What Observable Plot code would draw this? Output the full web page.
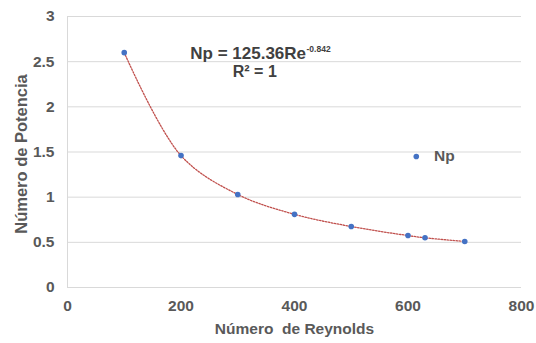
<!DOCTYPE html>
<html>
<head>
<meta charset="utf-8">
<script src="https://cdn.jsdelivr.net/npm/d3@7"></script>
<script src="https://cdn.jsdelivr.net/npm/@observablehq/plot@0.6"></script>
<style>
  html, body { margin: 0; padding: 0; background: #fff; }
  #chart { width: 536px; height: 343px; }
</style>
</head>
<body>
<div id="chart"></div>
<script>
// Data
const reynolds = [100, 200, 300, 400, 500, 600, 630, 700];
const potencia = [2.60, 1.46, 1.03, 0.81, 0.675, 0.575, 0.55, 0.51];
const xTicks = [0, 200, 400, 600, 800];
const yTicks = [0, 0.5, 1, 1.5, 2, 2.5, 3];
const seriesName = "Np";
const equationMain = "Np = 125.36Re";
const equationExp = "-0.842";
const rSquared = "R² = 1";

const data = reynolds.map((r, i) => ({re: r, np: potencia[i]}));

const grey = "#595959";
const font = "'Liberation Sans', Arial, sans-serif";

const chart = Plot.plot({
  width: 536,
  height: 343,
  marginLeft: 67,
  marginRight: 15,
  marginTop: 16,
  marginBottom: 56,
  style: {fontFamily: font, fontSize: "15px", fontWeight: "bold", color: grey, background: "#fff"},
  x: {domain: [0, 800]},
  y: {domain: [0, 3]},
  marks: [
    Plot.gridY(yTicks, {stroke: "#d9d9d9", strokeOpacity: 1, strokeWidth: 1}),
    Plot.ruleX([0], {stroke: "#d9d9d9", strokeWidth: 1}),
    Plot.axisX(xTicks, {
      tickSize: 0, tickPadding: 12, tickFormat: d => String(d),
      label: "Número\u00a0 de Reynolds", labelAnchor: "center", labelArrow: "none", labelOffset: 46,
      fontSize: 15.5, fontWeight: "bold"
    }),
    Plot.axisY(yTicks, {
      tickSize: 0, tickPadding: 13, tickFormat: d => String(d),
      fontSize: 15.5, fontWeight: "bold", label: null
    }),
    Plot.text(["Número de Potencia"], {
      frameAnchor: "left", textAnchor: "middle", dx: -46, dy: 2, rotate: -90, text: d => d,
      fontSize: 16.5, fontWeight: "bold", fill: grey
    }),
    Plot.line(data, {x: "re", y: "np", curve: "catmull-rom", stroke: "#c0504d", strokeWidth: 1.3, strokeDasharray: "1.5,1.5"}),
    Plot.dot(data, {x: "re", y: "np", r: 2.8, fill: "#4472c4", stroke: "none"}),
    // Trendline equation
    Plot.text([equationMain], {x: 420.3, y: 2.59, text: d => d, textAnchor: "end", fontSize: 17, fontWeight: "bold", fill: "#404040"}),
    Plot.text([equationExp], {x: 420.3, y: 2.59, text: d => d, textAnchor: "start", dy: -4.5, dx: 0.5, fontSize: 8.5, fontWeight: "bold", fill: "#404040"}),
    Plot.text([rSquared], {x: 330, y: 2.385, text: d => d, textAnchor: "middle", fontSize: 16, fontWeight: "bold", fill: "#404040"}),
    // Legend
    Plot.dot([seriesName], {x: 614.6, y: 1.45, r: 2.8, fill: "#4472c4", stroke: "none"}),
    Plot.text([seriesName], {x: 645.8, y: 1.45, text: d => d, textAnchor: "start", fontSize: 15.5, fontWeight: "bold", fill: grey})
  ]
});
document.getElementById("chart").appendChild(chart);
</script>
</body>
</html>
